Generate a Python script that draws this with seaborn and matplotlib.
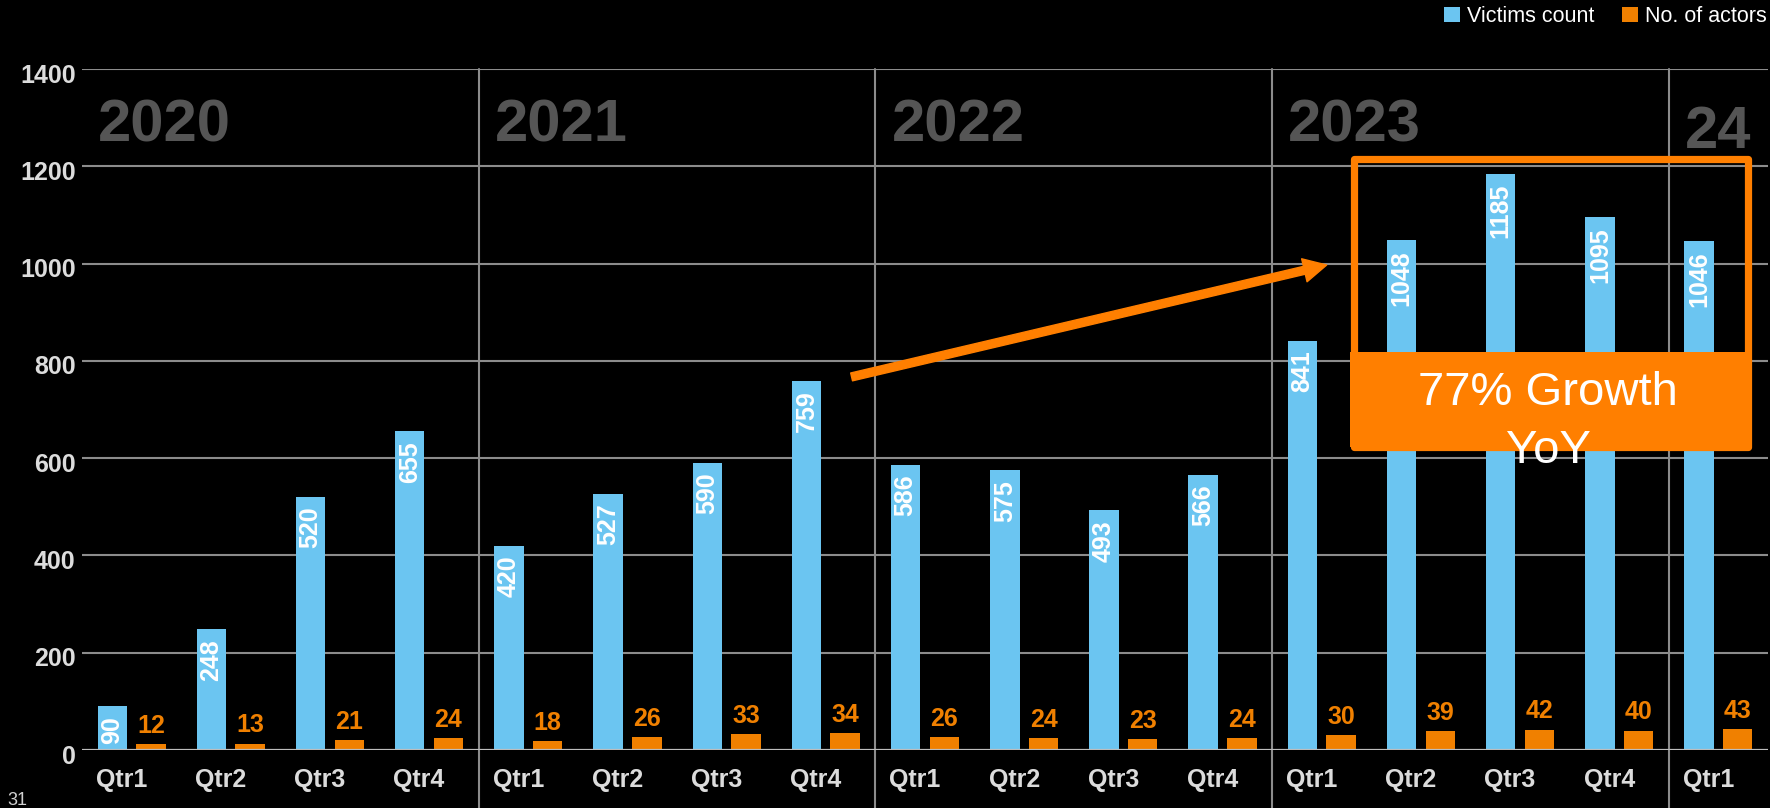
import matplotlib
matplotlib.use("Agg")
import matplotlib.pyplot as plt
import matplotlib.transforms as mtransforms
from matplotlib.patches import Patch, Rectangle
import pandas as pd
import seaborn as sns

# ---- data -------------------------------------------------------------
years = ["2020", "2021", "2022", "2023", "24"]
year_of_period = ["2020"] * 4 + ["2021"] * 4 + ["2022"] * 4 + ["2023"] * 4 + ["24"]
quarter_labels = ["Qtr1", "Qtr2", "Qtr3", "Qtr4"] * 4 + ["Qtr1"]
victims = [90, 248, 520, 655, 420, 527, 590, 759, 586, 575, 493, 566,
           841, 1048, 1185, 1095, 1046]
actors = [12, 13, 21, 24, 18, 26, 33, 34, 26, 24, 23, 24,
          30, 39, 42, 40, 43]
series_names = ["Victims count", "No. of actors"]
y_ticks = [0, 200, 400, 600, 800, 1000, 1200, 1400]
growth_lines = ["77% Growth", "YoY"]

# ---- styling ----------------------------------------------------------
BLUE = "#6BC5F1"
ORANGE = "#F08000"
BRIGHT_ORANGE = "#FF7F00"
GRID = "#8C8C8C"
TEXT = "#DCDCDC"
YEAR = "#555555"

sns.set_style("dark")
plt.rcParams["font.family"] = ["Liberation Sans", "DejaVu Sans"]

W, H, DPI = 1770, 808, 100
fig = plt.figure(figsize=(W / DPI, H / DPI), dpi=DPI, facecolor="black")
ax = fig.add_axes([82 / W, 1 - 750 / H, 1686 / W, 681 / H])
ax.set_facecolor("black")

periods = [f"{y}-{i}" for i, y in enumerate(year_of_period)]
df = pd.DataFrame({
    "period": periods * 2,
    "series": [series_names[0]] * len(periods) + [series_names[1]] * len(periods),
    "value": victims + actors,
})

sns.barplot(data=df, x="period", y="value", hue="series", order=periods,
            hue_order=series_names, palette=[BLUE, ORANGE], width=0.78,
            gap=0.24, errorbar=None, legend=False, ax=ax, zorder=3,
            linewidth=0, saturation=1)

ax.set_xlim(-0.5, len(periods) - 0.5)
ax.set_ylim(0, 1400)
for s in ax.spines.values():
    s.set_visible(False)
ax.set_xlabel("")
ax.set_ylabel("")

# horizontal grid
ax.set_axisbelow(True)
ax.grid(False)
for t in y_ticks[1:]:
    ax.axhline(t, color=GRID, lw=1.5, zorder=1)
ax.axhline(0, color="#BDBDBD", lw=1.6, zorder=4)

# year separators reaching to the bottom of the canvas
for b in [3.5, 7.5, 11.5, 15.5]:
    ax.axvline(b, ymin=-58 / 681, ymax=1, color=GRID, lw=1.5,
               clip_on=False, zorder=1)

# ticks
ax.set_yticks(y_ticks, [str(v) for v in y_ticks])
ax.set_xticks(range(len(periods)), quarter_labels)
ax.tick_params(axis="both", length=0, colors=TEXT)
ax.tick_params(axis="y", pad=4.5)
ax.tick_params(axis="x", pad=13)
for lbl in ax.get_yticklabels():
    lbl.set_fontsize(18)
    lbl.set_fontweight("bold")
    lbl.set_transform(lbl.get_transform() +
                      mtransforms.ScaledTranslation(0, -4 / DPI, fig.dpi_scale_trans))
for lbl in ax.get_xticklabels():
    lbl.set_fontsize(18)
    lbl.set_fontweight("bold")
    lbl.set_transform(lbl.get_transform() +
                      mtransforms.ScaledTranslation(-10 / DPI, 0, fig.dpi_scale_trans))

# value labels
blue_bars, orange_bars = ax.containers[0], ax.containers[1]
for bar, v in zip(blue_bars, victims):
    ax.annotate(str(v), (bar.get_x() + bar.get_width() / 2, bar.get_height()),
                xytext=(0, -7), textcoords="offset points", rotation=90,
                ha="center", va="top", color="white", fontsize=18,
                fontweight="bold", zorder=5)
ax.bar_label(orange_bars, labels=[str(v) for v in actors], padding=4.5,
             color=ORANGE, fontsize=18, fontweight="bold", zorder=5)

# year headings
year_starts = [-0.5, 3.5, 7.5, 11.5, 15.5]
year_base = [1250, 1250, 1250, 1250, 1237]
for yr, x0, yb in zip(years, year_starts, year_base):
    ax.annotate(yr, (x0, yb), xytext=(11.5, 0), textcoords="offset points",
                ha="left", va="baseline", color=YEAR, fontsize=43,
                fontweight="bold", zorder=2)

# growth arrow
ax.annotate("", xy=(12.05, 997), xytext=(7.26, 767),
            arrowprops=dict(color=BRIGHT_ORANGE, width=5.8, headwidth=17,
                            headlength=16.5, shrink=0), zorder=6)

# growth highlight box
ax.add_patch(Rectangle((12.325, 623), 16.30 - 12.325, 1214 - 623,
                       fill=False, edgecolor=BRIGHT_ORANGE, lw=5.2,
                       joinstyle="round", zorder=6))
ax.add_patch(Rectangle((12.29, 623), 16.335 - 12.29, 818 - 623,
                       facecolor=BRIGHT_ORANGE, edgecolor="none", zorder=6))
for line, yb in zip(growth_lines, [709, 590]):
    ax.text(14.285, yb, line, ha="center", va="baseline", color="white",
            fontsize=34, zorder=7)

# legend
handles = [Patch(facecolor=BLUE, edgecolor="none"),
           Patch(facecolor=ORANGE, edgecolor="none")]
fig.legend(handles, series_names, loc="upper right",
           bbox_to_anchor=(1767 / W, 1 - 6 / H), ncol=2, frameon=False,
           fontsize=15.5, labelcolor="white", handlelength=0.75,
           handleheight=0.75, handletextpad=0.35, columnspacing=1.25,
           borderpad=0, borderaxespad=0)

# page number
fig.text(7 / W, 1 - 805 / H, "31", color="#D0D0D0", fontsize=13,
         ha="left", va="baseline")

fig.savefig("out.png", dpi=DPI, facecolor="black")
